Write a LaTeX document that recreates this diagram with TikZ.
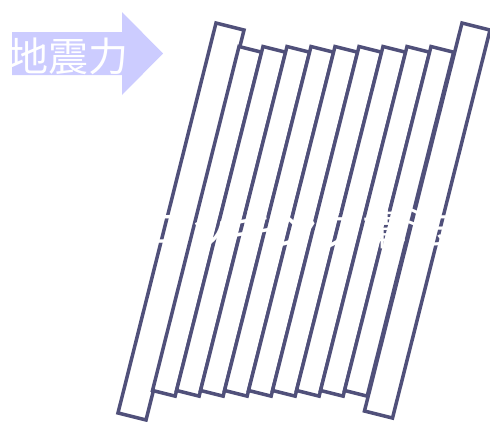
\documentclass[tikz,border=0pt]{standalone}
\usepackage{fontspec}
\newfontfamily\cjk{Noto Sans CJK JP}
\definecolor{panelc}{HTML}{50507A}
\definecolor{arrowc}{HTML}{CCCCFF}
\newcommand\panelstrip[4]{%
  \draw[panelbox] (#1,#2) -- ++({#3*0.970},{#3*0.2438}) -- ++({-#4*0.2438},{#4*0.970})
    -- ++({-#3*0.970},{-#3*0.2438}) -- cycle;}
\begin{document}
\begin{tikzpicture}[x=1pt,y=-1pt,
  panelbox/.style={draw=panelc, fill=white, line width=3.5pt, line join=miter},
  bigtext/.style={text=white, font=\cjk\fontsize{40}{40}\selectfont, inner sep=0pt}]
\useasboundingbox (0,0) rectangle (490,421);
% force arrow
\fill[arrowc] (12,32) -- (122,32) -- (122,12) -- (163,53.5) -- (122,95) -- (122,75) -- (12,75) -- cycle;
\node[bigtext] (force) at (69,56) {地震力};
% panels
\panelstrip{216}{23}{28.9}{402}
\foreach \k in {0,...,8} {\panelstrip{239+24*\k}{46.5}{23.3}{354.6}}
\panelstrip{462}{23}{28.9}{400}
% label over panels
\node[bigtext, font=\cjk\fontsize{44}{44}\selectfont] (rock) at (297,229) {ロッキング構法};
\end{tikzpicture}
\end{document}
